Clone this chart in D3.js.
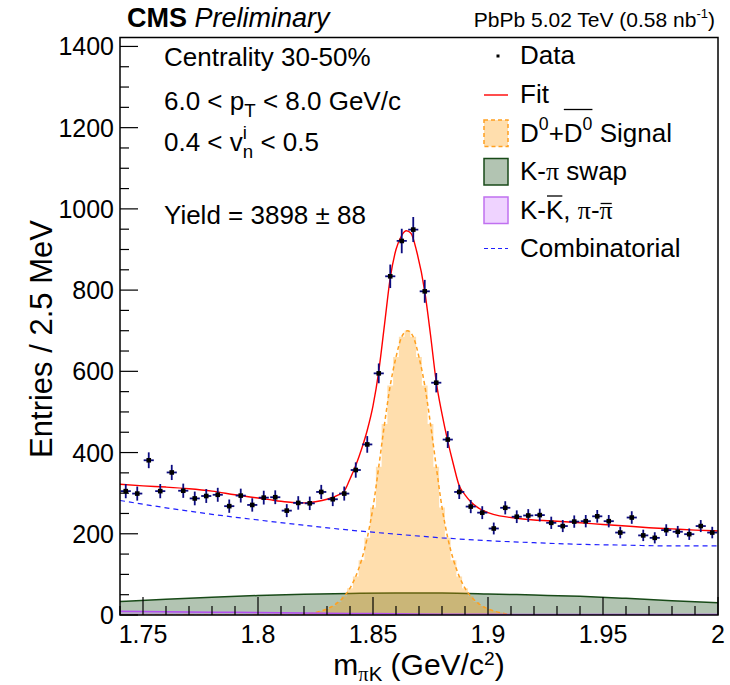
<!DOCTYPE html>
<html><head><meta charset="utf-8">
<script src="https://cdn.jsdelivr.net/npm/d3@7"></script>
<style>
body{margin:0;background:#fff}
svg{display:block}
text{font-family:"Liberation Sans",Arial,Helvetica,sans-serif;white-space:pre;fill:#000}
</style>
</head><body><svg id="c" width="730" height="685"></svg>
<script>
// ---------------- data ----------------
const binStart = 1.74, binWidth = 0.005;
const counts = [305,299,381,305,351,306,287,293,296,268,294,271,289,290,257,276,275,303,285,299,357,420,
  595,834,921,949,797,572,432,
  303,267,252,213,264,242,245,246,227,219,230,231,243,231,203,240,196,190,209,205,199,219,203];
const countErrors = [17.5,17.3,19.5,17.5,18.7,17.5,16.9,17.1,17.2,16.4,17.1,16.5,17.0,17.0,16.0,16.6,16.6,17.4,16.9,17.3,18.9,20.5,
  24.4,28.9,30.3,30.8,28.2,23.9,20.8,
  17.4,16.3,15.9,14.6,16.2,15.6,15.7,15.7,15.1,14.8,15.2,15.2,15.6,15.2,14.2,15.5,14.0,13.8,14.5,14.3,14.1,14.8,14.2];

const fitMass = [1.740,1.750,1.760,1.770,1.780,1.790,1.800,1.805,1.810,1.815,1.820,1.825,1.830,1.835,1.8375,1.840,1.8425,1.845,1.8475,1.850,1.8525,1.855,1.8575,1.860,1.8625,1.8645,1.8665,1.869,1.8725,1.875,1.8775,1.880,1.8825,1.885,1.8875,1.890,1.8925,1.895,1.8975,1.900,1.905,1.910,1.920,1.930,1.940,1.950,1.960,1.970,1.980,1.990,2.000];
const fitValues = [322,318,315,311,305,296,288,284,280,277,276,279,285,296,305,335,368,408,455,515,600,715,830,900,935,946,940,895,797,690,574,495,428,370,318,296,279,267,258,252,244,240,234,231,227,223,219,215,212,209,207];

const bkgMass = [1.74,1.76,1.78,1.80,1.82,1.84,1.86,1.88,1.90,1.92,1.94,1.96,1.98,2.00];
const combValues = [282,264,248,234,221,209,199,190,183,178,174,172,170,170];
const swapValues = [33,39,44,48,51,53,54,54,52,49,46,41,35,30];
const kkValues = [9,8,7,6,5,4,3,2,2,1,1,1,1,1];

const signalMass = [1.7400,1.8150,1.8175,1.8200,1.8225,1.8250,1.8275,1.8300,1.8325,1.8350,1.8375,1.8400,1.8425,1.8450,1.8475,1.8500,1.8525,1.8550,1.8575,1.8600,1.8625,1.8650,1.8675,1.8700,1.8725,1.8750,1.8775,1.8800,1.8825,1.8850,1.8875,1.8900,1.8925,1.8950,1.8975,1.9000,1.9025,1.9050,1.9075,1.9100,1.9125,1.9150,2.0000];
const signalValues = [0,0,0,1,3,6,10,15,22,32,46,66,95,135,190,265,365,470,565,635,685,700,685,635,565,470,365,265,190,135,95,66,46,32,22,15,10,6,3,1,0,0,0];

const yTicks = [0,200,400,600,800,1000,1200,1400];
const xTicks = [1.75,1.8,1.85,1.9,1.95,2.0];
const xTickLabels = ["1.75","1.8","1.85","1.9","1.95","2"];

// ---------------- setup ----------------
const svg = d3.select("#c");
const L = 120, R = 718, T = 37.5, B = 615;
const x = d3.scaleLinear().domain([1.74, 2.0]).range([L, R]);
const y = d3.scaleLinear().domain([0, 1422]).range([B, T]);

svg.append("defs").append("clipPath").attr("id","clip")
  .append("rect").attr("x",L).attr("y",T).attr("width",R-L).attr("height",B-T);
const plot = svg.append("g").attr("clip-path","url(#clip)");

const bkgData = bkgMass.map((m,i)=>({m, comb:combValues[i], swap:swapValues[i], kk:kkValues[i]}));
const sigData = signalMass.map((m,i)=>({m, v:signalValues[i]}));
const fitData = fitMass.map((m,i)=>({m, v:fitValues[i]}));

// swap area
plot.append("path").datum(bkgData)
  .attr("d", d3.area().x(d=>x(d.m)).y0(y(0)).y1(d=>y(d.swap)).curve(d3.curveMonotoneX))
  .attr("fill","rgba(0,60,0,0.30)");
plot.append("path").datum(bkgData)
  .attr("d", d3.line().x(d=>x(d.m)).y(d=>y(d.swap)).curve(d3.curveMonotoneX))
  .attr("fill","none").attr("stroke","#184a18").attr("stroke-width",1.5);

// signal fill (stepped) + dashed curve
plot.append("path").datum(sigData)
  .attr("d", d3.area().x(d=>x(d.m)).y0(y(0)).y1(d=>y(d.v)).curve(d3.curveStep))
  .attr("fill","rgba(254,153,0,0.32)");
plot.append("path").datum(sigData)
  .attr("d", d3.line().x(d=>x(d.m)).y(d=>y(d.v)).curve(d3.curveMonotoneX))
  .attr("fill","none").attr("stroke","#ffa020").attr("stroke-width",1.5).attr("stroke-dasharray","4,3");

// KK / pipi
plot.append("path").datum(bkgData)
  .attr("d", d3.area().x(d=>x(d.m)).y0(y(0)).y1(d=>y(d.kk)).curve(d3.curveMonotoneX))
  .attr("fill","rgba(190,80,255,0.25)");
plot.append("path").datum(bkgData)
  .attr("d", d3.line().x(d=>x(d.m)).y(d=>y(d.kk)).curve(d3.curveMonotoneX))
  .attr("fill","none").attr("stroke","#b44ff0").attr("stroke-width",1.5);

// combinatorial
plot.append("path").datum(bkgData)
  .attr("d", d3.line().x(d=>x(d.m)).y(d=>y(d.comb)).curve(d3.curveMonotoneX))
  .attr("fill","none").attr("stroke","#2020ff").attr("stroke-width",1.2).attr("stroke-dasharray","5,4");

// fit
plot.append("path").datum(fitData)
  .attr("d", d3.line().x(d=>x(d.m)).y(d=>y(d.v)).curve(d3.curveMonotoneX))
  .attr("fill","none").attr("stroke","#ff0000").attr("stroke-width",1.4);

// data points
const pts = counts.map((c,i)=>({m: binStart + binWidth*(i+0.5), v:c, e:countErrors[i]}));
const gp = plot.append("g");
gp.selectAll("line.h").data(pts).enter().append("line")
  .attr("x1",d=>x(d.m-0.0022)).attr("x2",d=>x(d.m+0.0022))
  .attr("y1",d=>y(d.v)).attr("y2",d=>y(d.v))
  .attr("stroke","#0c0c80").attr("stroke-width",1.8);
gp.selectAll("line.v").data(pts).enter().append("line")
  .attr("x1",d=>x(d.m)).attr("x2",d=>x(d.m))
  .attr("y1",d=>y(d.v-d.e)).attr("y2",d=>y(d.v+d.e))
  .attr("stroke","#0c0c80").attr("stroke-width",1.8);
gp.selectAll("rect").data(pts).enter().append("rect")
  .attr("x",d=>x(d.m)-2.3).attr("y",d=>y(d.v)-2.3).attr("width",4.6).attr("height",4.6)
  .attr("fill","#000");

// ---------------- axes / frame ----------------
const ax = svg.append("g").attr("stroke","#000").attr("stroke-width",1.2);
for (let v = 0; v <= 1420; v += 50) {
  const len = (v % 200 === 0) ? 18 : 9;
  ax.append("line").attr("x1",L).attr("x2",L+len).attr("y1",y(v)).attr("y2",y(v));
}
for (let k = 174; k <= 200; k++) {
  const len = (k % 5 === 0) ? 18 : 9;
  const xv = x(k/100);
  ax.append("line").attr("x1",xv).attr("x2",xv).attr("y1",B).attr("y2",B-len);
}
svg.append("rect").attr("x",L).attr("y",T).attr("width",R-L).attr("height",B-T)
  .attr("fill","none").attr("stroke","#000").attr("stroke-width",1.5);

svg.append("g").selectAll("text").data(yTicks).enter().append("text")
  .attr("x",114).attr("y",d=>y(d)+9).attr("text-anchor","end").attr("font-size",25).text(d=>d);
svg.append("g").selectAll("text").data(xTicks).enter().append("text")
  .attr("x",d=>x(d)).attr("y",643).attr("text-anchor","middle").attr("font-size",25)
  .text((d,i)=>xTickLabels[i]);

// ---------------- rich text helper ----------------
function rich(parent, x0, yb, parts, size) {
  const g = parent.append("g");
  let cx = x0; const out = [];
  parts.forEach(p => {
    const fs = size * (p.scale || 1);
    const t = g.append("text").attr("x", cx).attr("y", yb + (p.dy || 0)).attr("font-size", fs).text(p.t);
    if (p.serif) t.style("font-family", "'Liberation Serif','DejaVu Serif',serif");
    if (p.italic) t.attr("font-style","italic");
    if (p.bold) t.attr("font-weight","bold");
    const w = t.node().getComputedTextLength();
    out.push({x: cx, w, t});
    if (!p.stay) cx += w;
  });
  return {g, items: out, width: cx - x0};
}

// CMS Preliminary
rich(svg, 127, 27, [{t:"CMS", bold:true},{t:" Preliminary", italic:true}], 27);
// PbPb
{
  const r = rich(svg, 0, 27, [{t:"PbPb 5.02 TeV (0.58 nb"},{t:"-1", scale:0.62, dy:-9},{t:")"}], 21);
  r.g.attr("transform", `translate(${715 - r.width},0)`);
}

// annotations
rich(svg, 164, 66, [{t:"Centrality 30-50%"}], 26);
rich(svg, 164, 110, [{t:"6.0 < p"},{t:"T", scale:0.72, dy:7},{t:" < 8.0 GeV/c"}], 26);
{
  const r = rich(svg, 164, 151, [{t:"0.4 < v"},{t:"n", scale:0.72, dy:7},{t:" < 0.5"}], 26);
  const n = r.items[1];
  r.g.append("text").attr("x", n.x).attr("y", 151 - 12).attr("font-size", 26*0.72).text("i");
}
rich(svg, 164, 224, [{t:"Yield = 3898 "},{t:"±"},{t:" 88"}], 26);

// axis titles
{
  const r = rich(svg, 0, 675, [{t:"m", }, {t:"π", serif:true, scale:0.68, dy:6},{t:"K", scale:0.68, dy:6},{t:" (GeV/c"},{t:"2", scale:0.64, dy:-10},{t:")"}], 30);
  r.g.attr("transform", `translate(${419 - r.width/2},0)`);
}
svg.append("text").attr("transform","translate(52,339) rotate(-90)").attr("text-anchor","middle")
  .attr("font-size",31).text("Entries / 2.5 MeV");

// ---------------- legend ----------------
const lg = svg.append("g");
const bx = 484, bw = 24, bh = 26.5;
// Data
lg.append("rect").attr("x",496.5).attr("y",54.5).attr("width",3).attr("height",3).attr("fill","#000");
rich(lg, 520, 64, [{t:"Data"}], 26);
// Fit
lg.append("line").attr("x1",bx).attr("x2",bx+bw).attr("y1",95).attr("y2",95).attr("stroke","#ff0000").attr("stroke-width",1.4);
rich(lg, 520, 103, [{t:"Fit"}], 26);
// Signal
lg.append("rect").attr("x",bx).attr("y",120).attr("width",bw).attr("height",bh)
  .attr("fill","rgba(254,153,0,0.32)").attr("stroke","#ffa020").attr("stroke-width",1.5).attr("stroke-dasharray","4,3");
{
  const r = rich(lg, 520, 141.5, [{t:"D"},{t:"0", scale:0.68, dy:-12},{t:"+"},{t:"D"},{t:"0", scale:0.68, dy:-12},{t:" Signal"}], 26);
  const a = r.items[3], b = r.items[4];
  lg.append("line").attr("x1",a.x).attr("x2",b.x+b.w).attr("y1",109.5).attr("y2",109.5).attr("stroke","#000").attr("stroke-width",1.3);
}
// swap
lg.append("rect").attr("x",bx).attr("y",158.5).attr("width",bw).attr("height",bh)
  .attr("fill","rgba(0,60,0,0.30)").attr("stroke","#184a18").attr("stroke-width",1.5);
rich(lg, 520, 180, [{t:"K-"},{t:"π", serif:true},{t:" swap"}], 26);
// KK
lg.append("rect").attr("x",bx).attr("y",197).attr("width",bw).attr("height",bh)
  .attr("fill","rgba(190,80,255,0.25)").attr("stroke","#c070f0").attr("stroke-width",1.5);
{
  const r = rich(lg, 520, 218.5, [{t:"K-"},{t:"K"},{t:", "},{t:"π", serif:true},{t:"-"},{t:"π", serif:true}], 26);
  const k = r.items[1], p = r.items[5];
  lg.append("line").attr("x1",k.x+1).attr("x2",k.x+k.w-1).attr("y1",196).attr("y2",196).attr("stroke","#000").attr("stroke-width",1.3);
  lg.append("line").attr("x1",p.x+1).attr("x2",p.x+p.w-1).attr("y1",203.5).attr("y2",203.5).attr("stroke","#000").attr("stroke-width",1.3);
}
// Combinatorial
lg.append("line").attr("x1",bx).attr("x2",bx+bw).attr("y1",248.5).attr("y2",248.5)
  .attr("stroke","#2020ff").attr("stroke-width",1.2).attr("stroke-dasharray","4,3");
rich(lg, 520, 256.5, [{t:"Combinatorial"}], 26);
</script>
</body></html>
